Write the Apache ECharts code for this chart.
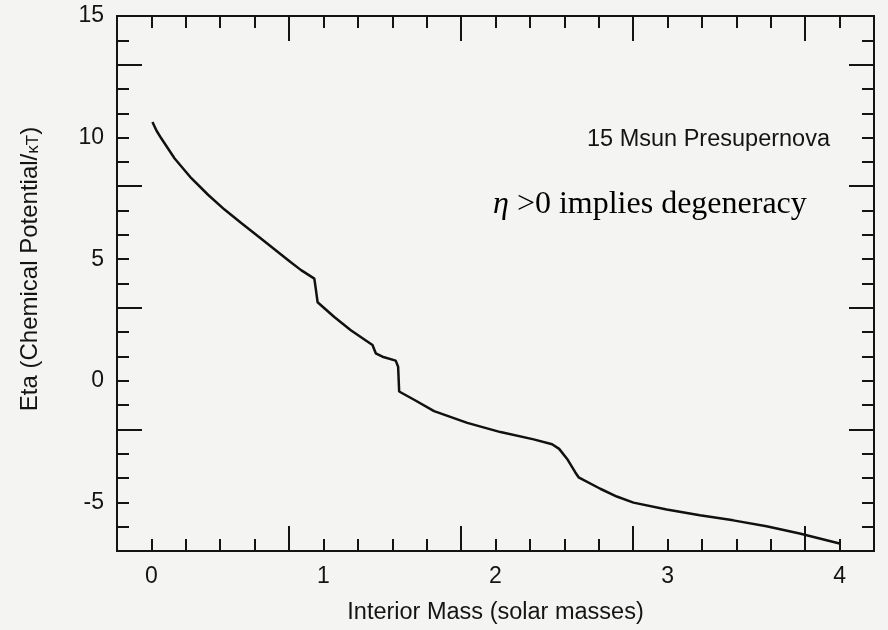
<!DOCTYPE html>
<html>
<head>
<meta charset="utf-8">
<script src="https://cdn.jsdelivr.net/npm/echarts@6/dist/echarts.min.js"></script>
<style>
html,body{margin:0;padding:0;background:#f4f4f2;}
#chart{width:888px;height:630px;}
</style>
</head>
<body>
<div id="chart"></div>
<script>
// Interior mass (solar masses)
var massValues = [0.006,0.03,0.058,0.135,0.232,0.329,0.425,0.522,0.618,0.715,0.812,0.87,0.947,0.957,0.966,1.063,1.159,1.285,1.304,1.343,1.42,1.434,1.44,1.527,1.643,1.836,2.029,2.222,2.329,2.37,2.42,2.464,2.483,2.609,2.705,2.802,2.995,3.188,3.382,3.575,3.768,4.0];
// Eta (chemical potential / kT)
var etaValues = [10.64,10.28,9.96,9.14,8.33,7.65,7.04,6.49,5.95,5.41,4.86,4.55,4.2,3.7,3.23,2.62,2.08,1.47,1.13,0.99,0.83,0.58,-0.44,-0.78,-1.25,-1.73,-2.11,-2.41,-2.61,-2.8,-3.25,-3.77,-3.97,-4.44,-4.76,-5.01,-5.29,-5.53,-5.74,-5.98,-6.28,-6.69];
var xTickLabels = [0,1,2,3,4];
var yTickLabels = [-5,0,5,10,15];

var data = massValues.map(function(m,i){return [m, etaValues[i]];});
var FONT = 'Liberation Sans, Arial, Helvetica, sans-serif';
var SERIF = 'Liberation Serif, Times New Roman, serif';
var INK = '#141414';

function isIn(list, v){
  for (var i=0;i<list.length;i++){ if (Math.abs(list[i]-v) < 1e-6) return true; }
  return false;
}
function xAx(pos, interval, len, labels){
  return {
    type:'value', position:pos, min:-0.2, max:4.2, interval:interval,
    axisLine:{show:true, onZero:false, lineStyle:{color:INK, width:2}},
    axisTick:{show:true, inside:true, length:len, lineStyle:{color:INK, width:2}},
    splitLine:{show:false},
    axisLabel:{show:labels, margin:14, color:INK, fontSize:23, fontFamily:FONT,
      formatter:function(v){ return isIn(xTickLabels, v) ? String(Math.round(v)) : ''; }}
  };
}
function yAx(pos, interval, len, labels){
  return {
    type:'value', position:pos, min:-7, max:15, interval:interval,
    axisLine:{show:true, onZero:false, lineStyle:{color:INK, width:2}},
    axisTick:{show:true, inside:true, length:len, lineStyle:{color:INK, width:2}},
    splitLine:{show:false},
    axisLabel:{show:labels, margin:13, color:INK, fontSize:23, fontFamily:FONT,
      formatter:function(v){ return isIn(yTickLabels, v) ? String(Math.round(v)) : ''; }}
  };
}

var chart = echarts.init(document.getElementById('chart'), null, {renderer:'canvas'});
chart.setOption({
  backgroundColor:'#f4f4f2',
  animation:false,
  grid:{left:117, right:14, top:16, bottom:74},
  xAxis:[
    Object.assign(xAx('bottom',0.2,12,true), {
      name:'Interior Mass (solar masses)', nameLocation:'middle', nameGap:50,
      nameTextStyle:{color:INK, fontSize:23.5, fontFamily:FONT}
    }),
    xAx('bottom',1,25,false),
    xAx('top',0.2,12,false),
    xAx('top',1,25,false)
  ],
  yAxis:[
    yAx('left',1,12,true),
    yAx('left',5,25,false),
    yAx('right',1,12,false),
    yAx('right',5,25,false)
  ],
  graphic:[
    {type:'text', x:30, y:269, rotation:Math.PI/2,
      style:{text:'Eta (Chemical Potential/{s|κT})', fill:INK, font:'24px '+FONT,
        textAlign:'center', textVerticalAlign:'middle',
        rich:{s:{fontSize:17, fontFamily:FONT, fill:INK, padding:[6,0,0,0]}}}},
    {type:'text', x:830, y:140,
      style:{text:'15 Msun Presupernova', fill:INK, font:'23.5px '+FONT,
        textAlign:'right', textVerticalAlign:'middle'}},
    {type:'text', x:493, y:205,
      style:{text:'{i|η} >0 implies degeneracy', fill:'#000', font:'32px '+SERIF,
        textAlign:'left', textVerticalAlign:'middle',
        rich:{i:{fontStyle:'italic', fontSize:32, fontFamily:SERIF, fill:'#000'}}}}
  ],
  series:[{
    type:'line', xAxisIndex:0, yAxisIndex:0, data:data, showSymbol:false, smooth:false,
    lineStyle:{color:'#111', width:2.5}
  }]
});
</script>
</body>
</html>
